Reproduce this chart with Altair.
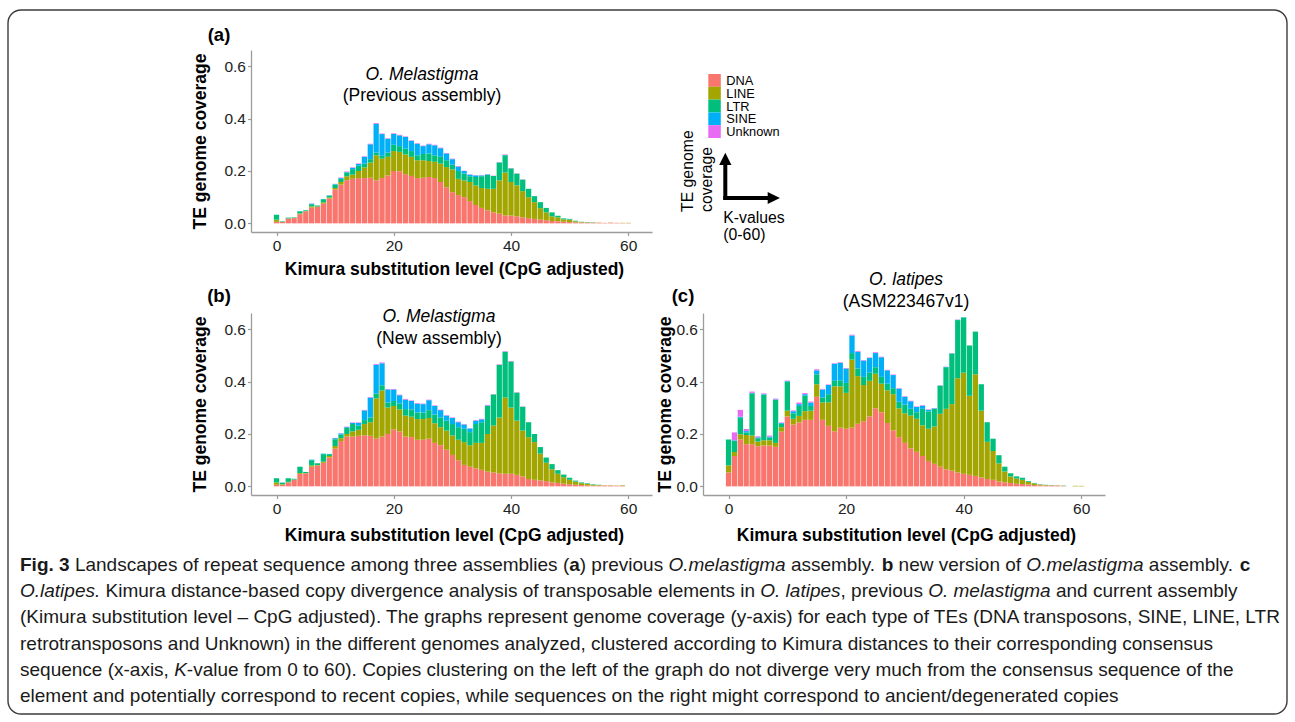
import altair as alt
import pandas as pd

# ---------------------------------------------------------------- data
K_VALUES = list(range(61))
CLASSES = ["DNA", "LINE", "LTR", "SINE", "Unknown"]
CLASS_COLORS = ["#F8766D", "#A3A500", "#00BF7D", "#00B0F6", "#E76BF3"]
X_TICKS = [0, 20, 40, 60]
Y_TICKS = [0.0, 0.2, 0.4, 0.6]
X_TITLE = "Kimura substitution level (CpG adjusted)"
Y_TITLE = "TE genome coverage"

# (a) O. Melastigma, previous assembly
A_DNA = [0.006, 0.005, 0.018, 0.02, 0.035, 0.046, 0.06, 0.062, 0.075, 0.095,
         0.13, 0.148, 0.165, 0.17, 0.173, 0.173, 0.174, 0.164, 0.173, 0.183,
         0.2, 0.199, 0.188, 0.181, 0.173, 0.174, 0.177, 0.173, 0.158, 0.138,
         0.119, 0.108, 0.1, 0.085, 0.07, 0.059, 0.05, 0.042, 0.037, 0.03,
         0.03, 0.027, 0.023, 0.02, 0.017, 0.014, 0.012, 0.009, 0.008, 0.006,
         0.005, 0.004, 0.003, 0.003, 0.002, 0.002, 0.002, 0.002, 0.002, 0.001, 0.001]
A_LINE = [0.008, 0.001, 0.001, 0.001, 0.003, 0.001, 0.005, 0.002, 0.005, 0.004,
          0.005, 0.01, 0.015, 0.016, 0.027, 0.041, 0.058, 0.096, 0.074, 0.071,
          0.076, 0.074, 0.075, 0.073, 0.068, 0.067, 0.061, 0.062, 0.07, 0.077,
          0.087, 0.062, 0.064, 0.073, 0.075, 0.076, 0.082, 0.09, 0.127, 0.164,
          0.128, 0.118, 0.1, 0.08, 0.064, 0.044, 0.03, 0.018, 0.015, 0.009,
          0.009, 0.004, 0.002, 0.001, 0.001, 0.001, 0.0, 0.001, 0.0, 0.001, 0.001]
A_LTR = [0.019, 0.002, 0.003, 0.002, 0.008, 0.003, 0.008, 0.004, 0.012, 0.007,
         0.013, 0.012, 0.014, 0.021, 0.02, 0.014, 0.013, 0.01, 0.011, 0.016,
         0.024, 0.022, 0.022, 0.022, 0.019, 0.024, 0.029, 0.025, 0.026, 0.026,
         0.018, 0.03, 0.026, 0.022, 0.032, 0.045, 0.053, 0.049, 0.068, 0.066,
         0.052, 0.045, 0.044, 0.032, 0.023, 0.023, 0.017, 0.015, 0.006, 0.004,
         0.003, 0.002, 0.001, 0.001, 0.001, 0.0, 0.0, 0.0, 0.0, 0.0, 0.0]
A_SINE = [0.0, 0.0, 0.0, 0.0, 0.001, 0.0, 0.002, 0.0, 0.001, 0.001,
          0.002, 0.003, 0.002, 0.005, 0.007, 0.026, 0.057, 0.11, 0.083, 0.053,
          0.042, 0.041, 0.045, 0.039, 0.044, 0.03, 0.035, 0.038, 0.033, 0.026,
          0.021, 0.017, 0.01, 0.006, 0.006, 0.003, 0.002, 0.0, 0.001, 0.001,
          0.0, 0.0, 0.0, 0.0, 0.0, 0.0, 0.0, 0.0, 0.0, 0.0,
          0.0, 0.0, 0.0, 0.0, 0.0, 0.0, 0.0, 0.0, 0.0, 0.0, 0.0]
A_UNK = [0.0, 0.0, 0.0, 0.0, 0.0, 0.0, 0.001, 0.0, 0.0, 0.0,
         0.001, 0.002, 0.002, 0.002, 0.002, 0.002, 0.002, 0.003, 0.002, 0.002,
         0.002, 0.002, 0.002, 0.002, 0.002, 0.002, 0.002, 0.002, 0.002, 0.002,
         0.002, 0.002, 0.001, 0.001, 0.001, 0.001, 0.001, 0.001, 0.001, 0.002,
         0.001, 0.001, 0.001, 0.0, 0.0, 0.0, 0.0, 0.0, 0.0, 0.0,
         0.0, 0.0, 0.0, 0.0, 0.0, 0.0, 0.0, 0.0, 0.0, 0.0, 0.0]

# (b) O. Melastigma, new assembly
B_DNA = [0.006, 0.006, 0.015, 0.025, 0.048, 0.05, 0.075, 0.08, 0.09, 0.11,
         0.144, 0.173, 0.19, 0.19, 0.193, 0.195, 0.193, 0.182, 0.19, 0.2,
         0.218, 0.21, 0.19, 0.188, 0.178, 0.178, 0.182, 0.166, 0.157, 0.14,
         0.12, 0.1, 0.082, 0.075, 0.069, 0.063, 0.056, 0.053, 0.05, 0.048,
         0.048, 0.044, 0.038, 0.028, 0.025, 0.023, 0.02, 0.015, 0.013, 0.01,
         0.008, 0.006, 0.005, 0.004, 0.003, 0.003, 0.003, 0.003, 0.002, 0.002, 0.0]
B_LINE = [0.009, 0.002, 0.002, 0.001, 0.003, 0.001, 0.005, 0.002, 0.004, 0.006,
          0.01, 0.011, 0.01, 0.02, 0.023, 0.043, 0.052, 0.154, 0.176, 0.101,
          0.089, 0.084, 0.08, 0.078, 0.079, 0.079, 0.079, 0.075, 0.069, 0.073,
          0.074, 0.078, 0.087, 0.082, 0.097, 0.103, 0.144, 0.179, 0.213, 0.291,
          0.253, 0.207, 0.175, 0.16, 0.144, 0.102, 0.07, 0.05, 0.035, 0.025,
          0.017, 0.012, 0.007, 0.006, 0.003, 0.002, 0.001, 0.001, 0.001, 0.002, 0.0]
B_LTR = [0.016, 0.006, 0.014, 0.003, 0.024, 0.004, 0.02, 0.006, 0.029, 0.007,
         0.026, 0.014, 0.023, 0.028, 0.016, 0.015, 0.018, 0.018, 0.02, 0.019,
         0.019, 0.022, 0.025, 0.028, 0.025, 0.025, 0.03, 0.033, 0.037, 0.038,
         0.044, 0.048, 0.051, 0.05, 0.072, 0.079, 0.107, 0.119, 0.201, 0.175,
         0.176, 0.107, 0.091, 0.057, 0.031, 0.025, 0.02, 0.02, 0.014, 0.01,
         0.008, 0.004, 0.003, 0.002, 0.002, 0.001, 0.0, 0.0, 0.0, 0.0, 0.0]
B_SINE = [0.0, 0.001, 0.0, 0.0, 0.0, 0.0, 0.002, 0.0, 0.002, 0.001,
          0.004, 0.004, 0.003, 0.004, 0.01, 0.037, 0.076, 0.11, 0.084, 0.05,
          0.044, 0.032, 0.036, 0.032, 0.034, 0.032, 0.038, 0.033, 0.028, 0.019,
          0.023, 0.019, 0.016, 0.014, 0.013, 0.011, 0.002, 0.0, 0.0, 0.0,
          0.0, 0.0, 0.0, 0.0, 0.0, 0.0, 0.0, 0.0, 0.0, 0.0,
          0.0, 0.0, 0.0, 0.0, 0.0, 0.0, 0.0, 0.0, 0.0, 0.0, 0.0]
B_UNK = [0.0, 0.0, 0.0, 0.0, 0.0, 0.0, 0.0, 0.0, 0.0, 0.0,
         0.001, 0.001, 0.002, 0.002, 0.002, 0.002, 0.002, 0.003, 0.003, 0.002,
         0.002, 0.002, 0.003, 0.002, 0.002, 0.002, 0.002, 0.002, 0.002, 0.002,
         0.002, 0.002, 0.002, 0.001, 0.002, 0.002, 0.002, 0.001, 0.002, 0.002,
         0.002, 0.001, 0.001, 0.0, 0.0, 0.0, 0.0, 0.0, 0.0, 0.0,
         0.0, 0.0, 0.0, 0.0, 0.0, 0.0, 0.0, 0.0, 0.0, 0.0, 0.0]

# (c) O. latipes (ASM223467v1)
C_DNA = [0.053, 0.116, 0.179, 0.161, 0.161, 0.153, 0.156, 0.156, 0.151, 0.209,
         0.267, 0.236, 0.244, 0.254, 0.254, 0.342, 0.254, 0.231, 0.21, 0.224,
         0.22, 0.224, 0.239, 0.249, 0.267, 0.298, 0.283, 0.242, 0.214, 0.188,
         0.166, 0.145, 0.132, 0.116, 0.097, 0.086, 0.075, 0.065, 0.06, 0.053,
         0.048, 0.044, 0.04, 0.034, 0.028, 0.025, 0.019, 0.015, 0.013, 0.01,
         0.009, 0.007, 0.005, 0.004, 0.003, 0.003, 0.003, 0.001, 0.0, 0.0, 0.0]
C_LINE = [0.027, 0.015, 0.02, 0.035, 0.033, 0.018, 0.02, 0.02, 0.015, 0.017,
          0.022, 0.022, 0.025, 0.033, 0.035, 0.048, 0.066, 0.09, 0.172, 0.158,
          0.137, 0.26, 0.182, 0.138, 0.136, 0.132, 0.109, 0.125, 0.138, 0.11,
          0.113, 0.125, 0.126, 0.117, 0.123, 0.143, 0.202, 0.231, 0.254, 0.36,
          0.386, 0.302, 0.388, 0.255, 0.142, 0.11, 0.069, 0.042, 0.025, 0.02,
          0.016, 0.01, 0.006, 0.003, 0.002, 0.001, 0.001, 0.001, 0.0, 0.002, 0.002]
C_LTR = [0.099, 0.043, 0.063, 0.01, 0.161, 0.013, 0.174, 0.01, 0.164, 0.013,
         0.111, 0.021, 0.038, 0.059, 0.018, 0.038, 0.02, 0.031, 0.021, 0.023,
         0.038, 0.025, 0.029, 0.031, 0.031, 0.025, 0.026, 0.025, 0.023, 0.025,
         0.033, 0.026, 0.025, 0.063, 0.066, 0.067, 0.107, 0.159, 0.193, 0.222,
         0.211, 0.192, 0.163, 0.101, 0.075, 0.047, 0.031, 0.018, 0.012, 0.008,
         0.008, 0.003, 0.002, 0.001, 0.001, 0.001, 0.0, 0.001, 0.0, 0.0, 0.0]
C_SINE = [0.0, 0.002, 0.004, 0.005, 0.002, 0.003, 0.002, 0.004, 0.002, 0.003,
          0.002, 0.008, 0.007, 0.006, 0.013, 0.015, 0.03, 0.035, 0.065, 0.067,
          0.055, 0.067, 0.063, 0.062, 0.056, 0.054, 0.075, 0.051, 0.05, 0.05,
          0.03, 0.029, 0.02, 0.012, 0.006, 0.002, 0.001, 0.001, 0.001, 0.001,
          0.001, 0.0, 0.0, 0.0, 0.0, 0.0, 0.0, 0.0, 0.0, 0.0,
          0.0, 0.0, 0.0, 0.0, 0.0, 0.0, 0.0, 0.0, 0.0, 0.0, 0.0]
C_UNK = [0.0, 0.03, 0.026, 0.008, 0.005, 0.004, 0.003, 0.004, 0.003, 0.002,
         0.002, 0.003, 0.006, 0.004, 0.004, 0.004, 0.002, 0.002, 0.002, 0.002,
         0.002, 0.003, 0.003, 0.002, 0.002, 0.003, 0.002, 0.002, 0.002, 0.002,
         0.002, 0.002, 0.002, 0.002, 0.002, 0.001, 0.001, 0.001, 0.001, 0.001,
         0.0, 0.0, 0.0, 0.0, 0.0, 0.0, 0.0, 0.0, 0.0, 0.0,
         0.0, 0.0, 0.0, 0.0, 0.0, 0.0, 0.0, 0.0, 0.0, 0.0, 0.0]

CAPTION_LINES = [
    [("Fig. 3", "b"), (" Landscapes of repeat sequence among three assemblies (", "r"), ("a", "b"),
     (") previous ", "r"), ("O.melastigma", "i"), (" assembly. ", "r"), ("b", "b"),
     (" new version of ", "r"), ("O.melastigma", "i"), (" assembly. ", "r"), ("c", "b")],
    [("O.latipes.", "i"), (" Kimura distance-based copy divergence analysis of transposable elements in ", "r"),
     ("O. latipes", "i"), (", previous ", "r"), ("O. melastigma", "i"), (" and current assembly", "r")],
    [("(Kimura substitution level \u2013 CpG adjusted). The graphs represent genome coverage (y-axis) for each type of TEs (DNA transposons, SINE, LINE, LTR", "r")],
    [("retrotransposons and Unknown) in the different genomes analyzed, clustered according to Kimura distances to their corresponding consensus", "r")],
    [("sequence (x-axis, ", "r"), ("K", "i"),
     ("-value from 0 to 60). Copies clustering on the left of the graph do not diverge very much from the consensus sequence of the", "r")],
    [("element and potentially correspond to recent copies, while sequences on the right might correspond to ancient/degenerated copies", "r")],
]

# ---------------------------------------------------------------- helpers
FONT = "Liberation Sans"
W_PX, H_PX = 401, 182
X_DOMAIN = [-3.5, 63.2]
Y_DOMAIN = [-0.033, 0.662]
COLOR_SCALE = alt.Scale(domain=CLASSES, range=CLASS_COLORS)


def long_table(arrays):
    rows = []
    for ci, (cls, arr) in enumerate(zip(CLASSES, arrays)):
        for k, v in zip(K_VALUES, arr):
            rows.append({"k": k, "cov": v, "cls": cls, "ord": ci})
    return pd.DataFrame(rows)


ONE = pd.DataFrame({"o": [0]})


def label(text, x, y, size, weight=None, style=None, align="center", angle=None):
    kw = dict(fontSize=size, font=FONT, align=align, baseline="alphabetic", color="black")
    if weight:
        kw["fontWeight"] = weight
    if style:
        kw["fontStyle"] = style
    if angle:
        kw["angle"] = angle
    return alt.Chart(ONE).mark_text(**kw).encode(
        x=alt.value(x), y=alt.value(y), text=alt.value(text))


def bars(df, y_title_x, x_title_y):
    return alt.Chart(df).mark_bar(size=5.3).encode(
        x=alt.X("k:Q", scale=alt.Scale(domain=X_DOMAIN, nice=False, zero=False),
                axis=alt.Axis(values=X_TICKS, title=X_TITLE, titleX=203, titleY=x_title_y,
                              titleBaseline="alphabetic", titleAlign="center",
                              labelFlush=False, labelPadding=3)),
        y=alt.Y("cov:Q", stack="zero", scale=alt.Scale(domain=Y_DOMAIN, nice=False, zero=False),
                axis=alt.Axis(values=Y_TICKS, format=".1f", title=Y_TITLE, titleX=y_title_x,
                              titleY=91, titleAngle=270, titleBaseline="alphabetic",
                              titleAlign="center", labelPadding=2)),
        color=alt.Color("cls:N", scale=COLOR_SCALE, legend=None),
        order=alt.Order("ord:Q", sort="ascending"),
    )


# ---------------------------------------------------------------- panel (a) + frame + key
canvas = alt.Chart(ONE).mark_rect(opacity=0).encode(
    x=alt.value(-251), y=alt.value(-50), x2=alt.value(1044), y2=alt.value(672))
frame = alt.Chart(ONE).mark_rect(filled=False, color="#3c3c3c", strokeWidth=1.4, cornerRadius=13).encode(
    x=alt.value(-243), y=alt.value(-40), x2=alt.value(1036), y2=alt.value(664))

# colour key drawn from the class list through a band scale and the shared colour scale
key_df = pd.DataFrame({"cls": CLASSES})
KEY_Y = alt.Y("cls:N", scale=alt.Scale(domain=CLASSES, range=[24, 88], paddingInner=0, paddingOuter=0),
              axis=None)
key_boxes = alt.Chart(key_df).mark_rect(strokeWidth=0).encode(
    x=alt.value(457.3), x2=alt.value(469.8), y=KEY_Y,
    color=alt.Color("cls:N", scale=COLOR_SCALE, legend=None))
key_text = alt.Chart(key_df).mark_text(align="left", baseline="middle", fontSize=12.8, font=FONT,
                                       color="black", dy=0.5).encode(
    x=alt.value(475.3), y=KEY_Y, text="cls:N")
key = alt.layer(key_boxes, key_text)

arrow_v = alt.Chart(ONE).mark_rule(strokeWidth=4, color="black").encode(
    x=alt.value(474.3), y=alt.value(150), y2=alt.value(112))
arrow_h = alt.Chart(ONE).mark_rule(strokeWidth=4, color="black").encode(
    x=alt.value(472.3), x2=alt.value(519), y=alt.value(148))
head_up = alt.Chart(ONE).mark_point(shape="M0,-1L1,1L-1,1Z", filled=True, size=150, color="black",
                                     opacity=1, strokeWidth=0).encode(x=alt.value(474.3), y=alt.value(108.8))
head_right = alt.Chart(ONE).mark_point(shape="M1,0L-1,-1L-1,1Z", filled=True, size=150, color="black",
                                        opacity=1, strokeWidth=0).encode(x=alt.value(522.8), y=alt.value(148))

panel_a = alt.layer(
    canvas, frame,
    bars(long_table([A_DNA, A_LINE, A_LTR, A_SINE, A_UNK]), -46, 42),
    label("O. Melastigma", 171, 30, 17.5, style="italic"),
    label("(Previous assembly)", 171, 51, 17.5),
    label("(a)", -32, -9, 18.5, weight="bold"),
    key,
    arrow_v, arrow_h, head_up, head_right,
    label("TE genome", 442, 162, 15.8, align="left", angle=270),
    label("coverage", 460.5, 162, 15.8, align="left", angle=270),
    label("K-values", 472.3, 173, 15.8, align="left"),
    label("(0-60)", 472.3, 190, 15.8, align="left"),
).resolve_scale(y="independent").properties(width=W_PX, height=H_PX)

blank = alt.Chart(ONE).mark_point(opacity=0).encode(
    x=alt.value(0), y=alt.value(0)).properties(width=W_PX + 1, height=H_PX)

panel_b = alt.layer(
    bars(long_table([B_DNA, B_LINE, B_LTR, B_SINE, B_UNK]), -46, 45),
    label("O. Melastigma", 188, 9, 17.5, style="italic"),
    label("(New assembly)", 188, 31, 17.5),
    label("(b)", -32, -11, 18.5, weight="bold"),
).properties(width=W_PX, height=H_PX)

panel_c = alt.layer(
    bars(long_table([C_DNA, C_LINE, C_LTR, C_SINE, C_UNK]), -33, 45),
    label("O. latipes", 203, -28, 17.5, style="italic"),
    label("(ASM223467v1)", 203, -6, 17.5),
    label("(c)", -20, -11, 18.5, weight="bold"),
).properties(width=W_PX + 1, height=H_PX)

# ---------------------------------------------------------------- caption
_REG = {' ': 278, '(': 333, ')': 333, ',': 278, '-': 333, '.': 278, '/': 278, ':': 278, '\u2013': 556,
        'A': 667, 'B': 667, 'C': 722, 'D': 722, 'E': 667, 'F': 611, 'G': 778, 'H': 722, 'I': 278,
        'J': 500, 'K': 667, 'L': 556, 'M': 833, 'N': 722, 'O': 778, 'P': 667, 'Q': 778, 'R': 722,
        'S': 667, 'T': 611, 'U': 722, 'V': 667, 'W': 944, 'X': 667, 'Y': 667, 'Z': 611,
        'a': 556, 'b': 556, 'c': 500, 'd': 556, 'e': 556, 'f': 278, 'g': 556, 'h': 556, 'i': 222,
        'j': 222, 'k': 500, 'l': 222, 'm': 833, 'n': 556, 'o': 556, 'p': 556, 'q': 556, 'r': 333,
        's': 500, 't': 278, 'u': 556, 'v': 500, 'w': 722, 'x': 500, 'y': 500, 'z': 500}
_BOLD = dict(_REG)
_BOLD.update({'F': 611, 'i': 278, 'g': 611, 'a': 556, 'b': 611, 'c': 556, ' ': 278, '.': 278})
CAP_SIZE = 19.0
CAP_X0, CAP_Y0, CAP_STEP = -231, -5, 26.2


def seg_w(text, style):
    table = _BOLD if style == "b" else _REG
    return sum(table.get(ch, 556) for ch in text) / 1000.0 * CAP_SIZE


cap_rows = []
for li, line in enumerate(CAPTION_LINES):
    xpos = CAP_X0
    for text, style in line:
        body = text.strip(" ")
        lead = text[:len(text) - len(text.lstrip(" "))]
        cap_rows.append({"x": xpos + seg_w(lead, style), "y": CAP_Y0 + li * CAP_STEP, "t": body, "s": style})
        xpos += seg_w(text, style)
cap_df = pd.DataFrame(cap_rows)


def cap_layer(style, **kw):
    return alt.Chart(cap_df).transform_filter(alt.datum.s == style).mark_text(
        align="left", baseline="alphabetic", fontSize=CAP_SIZE, font=FONT, color="#1a1a1a", **kw
    ).encode(x=alt.X("x:Q", scale=None, axis=None), y=alt.Y("y:Q", scale=None, axis=None), text="t:N")


caption = alt.layer(
    cap_layer("r"), cap_layer("b", fontWeight="bold"), cap_layer("i", fontStyle="italic")
).properties(width=W_PX, height=10)

# ---------------------------------------------------------------- assemble
chart = alt.concat(panel_a, blank, panel_b, panel_c, caption, columns=2,
                   spacing={"row": 81, "column": 51}, bounds="flush", padding=0,
                   background="white").configure_view(strokeWidth=0).configure_axis(
    domainColor="#9c9c9c", domainWidth=1.3, tickColor="#9c9c9c", tickWidth=1.2, tickSize=3.5,
    labelColor="#222222", labelFontSize=15.5, labelFont=FONT, titleFont=FONT, titleFontSize=17.5,
    titleFontWeight="bold", titleColor="black", grid=False)

chart.save("out.html", embed_options={"renderer": "svg", "actions": False})
